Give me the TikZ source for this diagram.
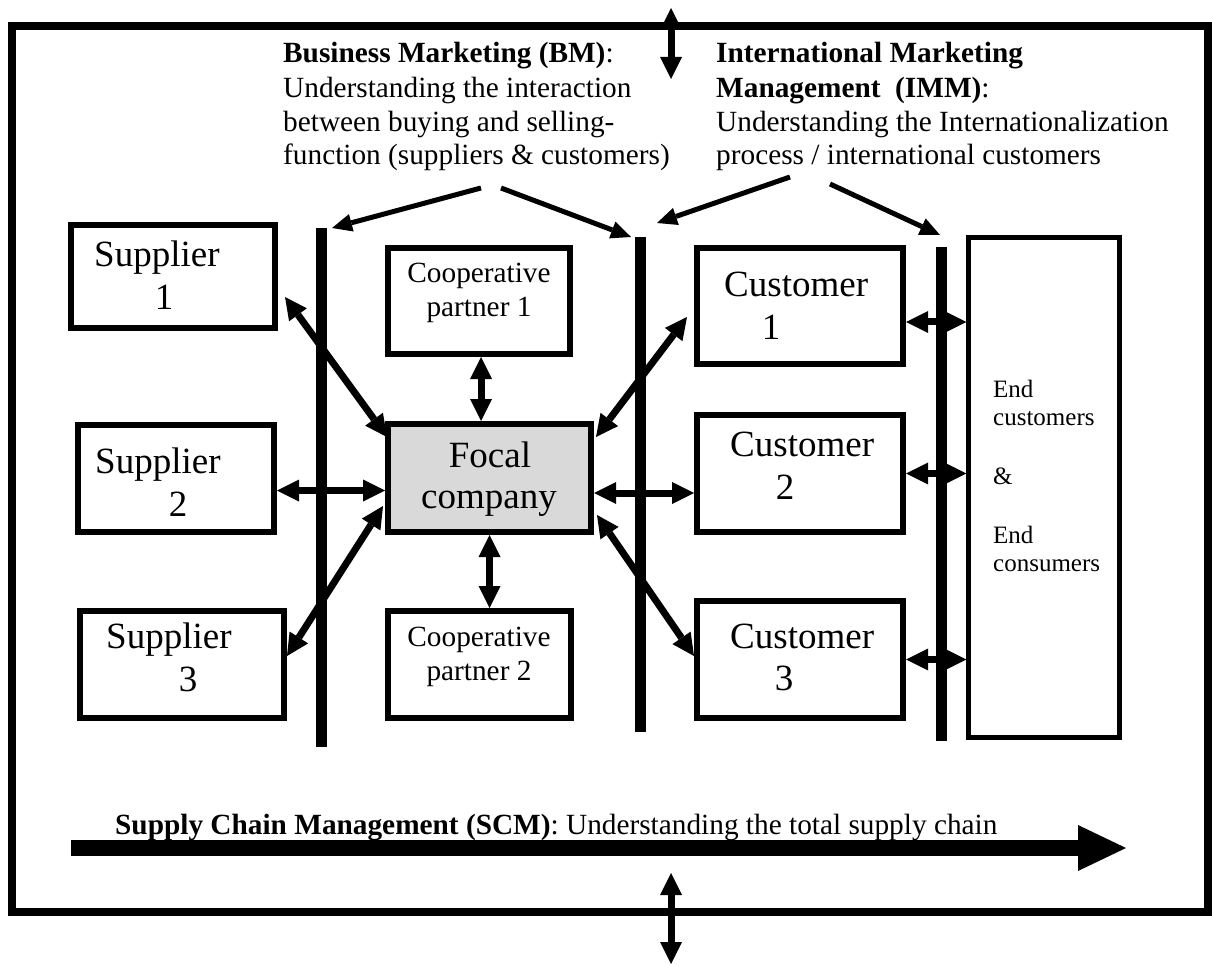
\documentclass[tikz,border=0pt]{standalone}
\usepackage{fontspec}
\setmainfont{Liberation Serif}
\usetikzlibrary{arrows.meta}

\tikzset{
  box/.style={draw, line width=6pt, inner sep=0pt, rectangle},
  endbox/.style={draw, line width=4.5pt, inner sep=0pt, rectangle},
  bigtxt/.style={font=\fontsize{37}{43}\selectfont, inner sep=0pt},
  headtxt/.style={font=\fontsize{29.3}{34}\selectfont, inner sep=0pt, anchor=base west},
  midtxt/.style={font=\fontsize{29.3}{34}\selectfont, inner sep=0pt, anchor=base},
  smalltxt/.style={font=\fontsize{25}{29}\selectfont, inner sep=0pt, anchor=base west},
  tipbig/.tip={Triangle[length=22pt,width=22pt,line width=0pt]},
  tipsmall/.tip={Triangle[length=20pt,width=18pt,line width=0pt]},
  dbl/.style={line width=7pt, tipbig-tipbig},
  pointer/.style={line width=5pt, -tipsmall},
  barline/.style={line width=11pt},
  chain/.style={line width=16pt, -{Triangle[length=48pt,width=46pt,line width=0pt]}}
}

\begin{document}
\begin{tikzpicture}[x=1pt,y=-1pt]
\path[use as bounding box] (0,0) rectangle (1212,965);

% outer frame
\draw[line width=8pt] (12,26) rectangle (1208,912);

% suppliers
\node[box, minimum width=204pt, minimum height=103pt] (s1) at (173,276.5) {};
\node[box, minimum width=196pt, minimum height=107pt] (s2) at (176,478.5) {};
\node[box, minimum width=204pt, minimum height=107pt] (s3) at (182,664.5) {};
\node[bigtxt, anchor=base west] (s1a) at (94,267) {Supplier};
\node[bigtxt, anchor=base] (s1b) at (164,310) {1};
\node[bigtxt, anchor=base west] (s2a) at (95,473) {Supplier};
\node[bigtxt, anchor=base] (s2b) at (178,516) {2};
\node[bigtxt, anchor=base west] (s3a) at (106,648) {Supplier};
\node[bigtxt, anchor=base] (s3b) at (188,691) {3};

% cooperative partners and focal company
\node[box, minimum width=182pt, minimum height=106pt] (coop1) at (479,301) {};
\node[midtxt] (c1a) at (479,283) {Cooperative};
\node[midtxt] (c1b) at (479,317) {partner 1};
\node[box, fill={rgb,255:red,217;green,217;blue,217}, minimum width=203pt, minimum height=108pt] (focal) at (489.5,478) {};
\node[bigtxt, anchor=base] (f1) at (490,467) {Focal};
\node[bigtxt, anchor=base] (f2) at (489,508) {company};
\node[box, minimum width=183pt, minimum height=107pt] (coop2) at (479.5,664.5) {};
\node[midtxt] (c2a) at (479,646) {Cooperative};
\node[midtxt] (c2b) at (479,680) {partner 2};

% customers
\node[box, minimum width=206pt, minimum height=116pt] (cust1) at (800,306) {};
\node[box, minimum width=206pt, minimum height=117pt] (cust2) at (800,473.5) {};
\node[box, minimum width=206pt, minimum height=117pt] (cust3) at (800,659.5) {};
\node[bigtxt, anchor=base west] (k1a) at (724,297) {Customer};
\node[bigtxt, anchor=base] (k1b) at (771,340) {1};
\node[bigtxt, anchor=base west] (k2a) at (730,456) {Customer};
\node[bigtxt, anchor=base] (k2b) at (785,499) {2};
\node[bigtxt, anchor=base west] (k3a) at (730,648) {Customer};
\node[bigtxt, anchor=base] (k3b) at (784,690) {3};

% end customers box
\node[endbox, minimum width=151pt, minimum height=500pt] (endb) at (1044,487.5) {};
\node[smalltxt] (e1) at (993,397) {End};
\node[smalltxt] (e2) at (993,425) {customers};
\node[smalltxt] (e3) at (993,484) {\&};
\node[smalltxt] (e4) at (993,543) {End};
\node[smalltxt] (e5) at (993,571) {consumers};

% boundary bars
\coordinate (lbtop) at (321,228);   \coordinate (lbbot) at (321,747);
\coordinate (mbtop) at (640.5,237); \coordinate (mbbot) at (640.5,732);
\coordinate (rbtop) at (941.5,247); \coordinate (rbbot) at (941.5,741);
\draw[barline] (lbtop) -- (lbbot);
\draw[barline] (mbtop) -- (mbbot);
\draw[barline] (rbtop) -- (rbbot);

% relations around the focal company
\draw[dbl] ([xshift=7pt,yshift=-20.5pt]s1.east) -- ([xshift=2pt,yshift=-16pt]focal.north west);
\draw[dbl] ([yshift=-12pt]s2.east) -- ([yshift=-12pt]s2.east -| focal.west);
\draw[dbl] ([yshift=8.5pt]s3.east) -- ([xshift=-2pt,yshift=-28pt]focal.west);
\draw[dbl] ([xshift=2pt]coop1.south) -- ([xshift=2pt]coop1.south |- focal.north);
\draw[dbl] (focal.south) -- (focal.south |- coop2.north);
\draw[dbl] ([xshift=2pt,yshift=-16pt]focal.north east) -- ([xshift=-7pt,yshift=-11pt]cust1.west);
\draw[dbl] ([yshift=-15pt]focal.east) -- ([yshift=-15pt]focal.east -| cust2.west);
\draw[dbl] ([xshift=3pt,yshift=-37pt]focal.east) -- ([yshift=3.5pt]cust3.west);
\draw[dbl] ([yshift=-16pt]cust1.east) -- ([yshift=-16pt]cust1.east -| endb.west);
\draw[dbl] (cust2.east) -- (cust2.east -| endb.west);
\draw[dbl] (cust3.east) -- (cust3.east -| endb.west);

% perspective headings
\node[headtxt] (bm1) at (283,63) {\textbf{Business Marketing (BM)}:};
\node[headtxt] (bm2) at (283,98) {Understanding the interaction};
\node[headtxt] (bm3) at (283,132) {between buying and selling-};
\node[headtxt] (bm4) at (283,165) {function (suppliers \& customers)};
\node[headtxt] (im1) at (716,63) {\textbf{International Marketing}};
\node[headtxt] (im2) at (716,98) {\textbf{Management\ \ (IMM)}:};
\node[headtxt] (im3) at (716,132) {Understanding the Internationalization};
\node[headtxt] (im4) at (716,165) {process / international customers};

\coordinate (bmL) at (481,188);
\coordinate (bmR) at (501,188);
\coordinate (imL) at (790,177);
\coordinate (imR) at (830,184);
\draw[pointer] (bmL) -- ([xshift=11pt]lbtop);
\draw[pointer] (bmR) -- ([xshift=-9.5pt]mbtop);
\draw[pointer] (imL) -- ([xshift=16.5pt,yshift=14pt]mbtop);
\draw[pointer] (imR) -- ([xshift=-1.5pt,yshift=12pt]rbtop);

% supply chain arrow
\coordinate (scmA) at (71,848);
\coordinate (scmB) at (1126,848);
\draw[chain] (scmA) -- (scmB);
\node[headtxt] (scm) at (115,834) {\textbf{Supply Chain Management (SCM)}: Understanding the total supply chain};

% links to the environment
\coordinate (ta1) at (671,8);   \coordinate (ta2) at (671,79);
\coordinate (ba1) at (671,873); \coordinate (ba2) at (671,964);
\draw[dbl] (ta1) -- (ta2);
\draw[dbl] (ba1) -- (ba2);
\end{tikzpicture}
\end{document}
